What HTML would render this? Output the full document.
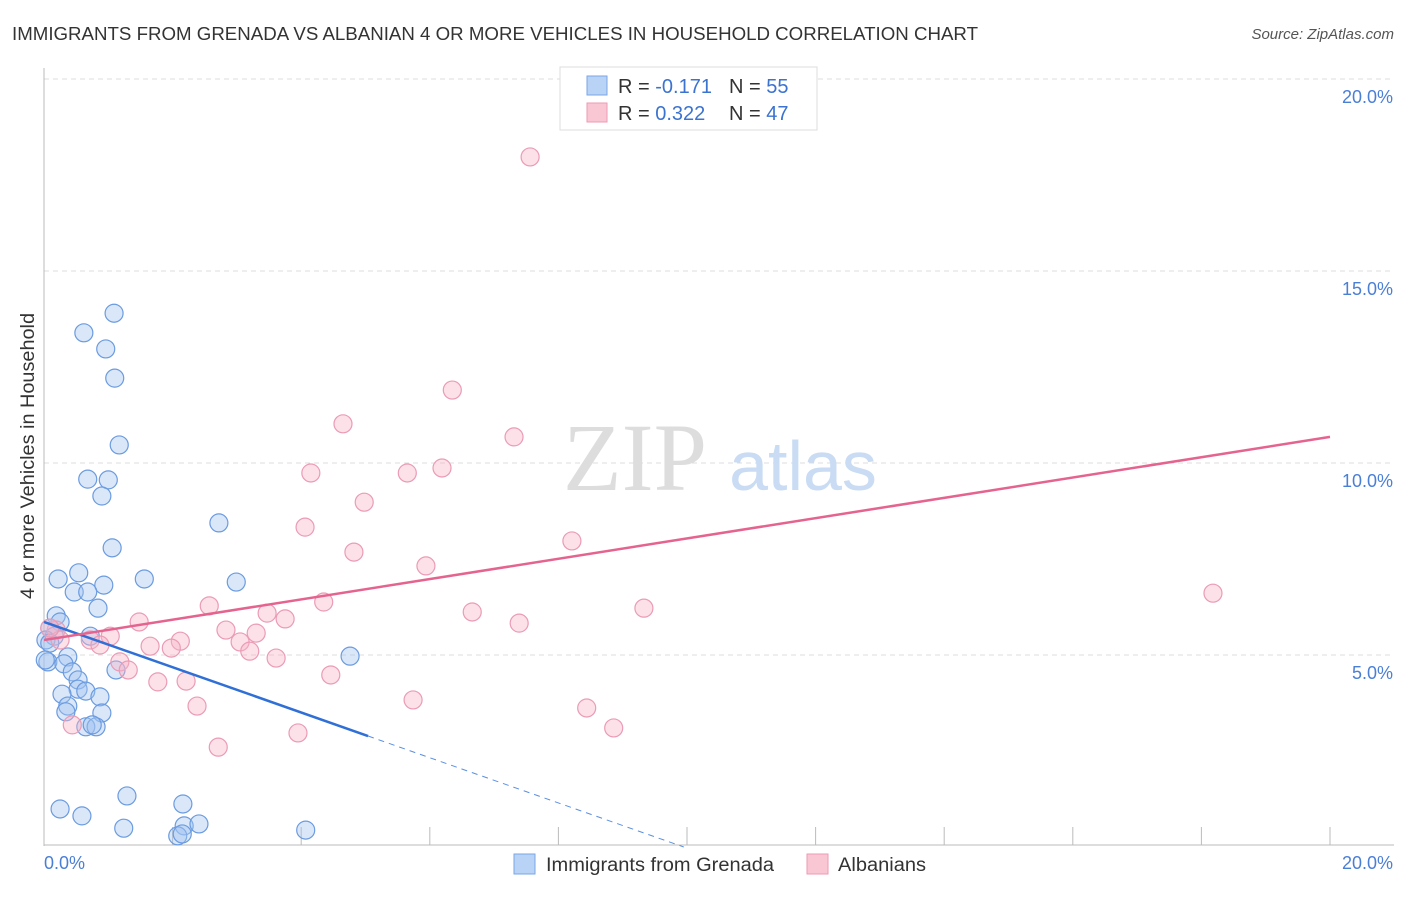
<!DOCTYPE html>
<html><head><meta charset="utf-8"><style>
body{margin:0;background:#fff;font-family:"Liberation Sans",sans-serif}
</style></head><body>
<svg width="1406" height="892" xmlns="http://www.w3.org/2000/svg" style="font-family:'Liberation Sans',sans-serif">
<text x="12" y="40" font-size="18" fill="#333" textLength="966" lengthAdjust="spacingAndGlyphs">IMMIGRANTS FROM GRENADA VS ALBANIAN 4 OR MORE VEHICLES IN HOUSEHOLD CORRELATION CHART</text>
<text x="1394" y="39" font-size="15" fill="#555" font-style="italic" text-anchor="end">Source: ZipAtlas.com</text>
<g id="grid"></g>
<text x="635" y="490" font-size="96" fill="#ddd" font-family="Liberation Serif" text-anchor="middle">ZIP</text>
<text x="803" y="490" font-size="70" fill="#c9dcf3" text-anchor="middle">atlas</text>
<line x1="44" y1="68" x2="44" y2="846" stroke="#bbb"/>
<line x1="44" y1="845" x2="1394" y2="845" stroke="#bbb"/>
<g id="ticks"></g>
<g id="pts"></g>
<g id="trend"></g>
<g id="ylab"></g>
<text x="44" y="869" font-size="18" fill="#4a7fd6">0.0%</text>
<text x="1393" y="869" font-size="18" fill="#4a7fd6" text-anchor="end">20.0%</text>
<text transform="translate(34,456) rotate(-90)" font-size="19" fill="#333" text-anchor="middle" textLength="286" lengthAdjust="spacingAndGlyphs">4 or more Vehicles in Household</text>
<g>
<rect x="560" y="67" width="257" height="63" fill="#fff" stroke="#ddd"/>
<rect x="587" y="76" width="20" height="19" fill="#b8d3f5" stroke="#7aa6e6"/>
<rect x="587" y="103" width="20" height="19" fill="#f9c6d4" stroke="#ee9ab4"/>
<text x="618" y="93" font-size="20" fill="#333">R = <tspan fill="#3b73d0">-0.171</tspan></text>
<text x="729" y="93" font-size="20" fill="#333">N = <tspan fill="#3b73d0">55</tspan></text>
<text x="618" y="120" font-size="20" fill="#333">R = <tspan fill="#3b73d0"> 0.322</tspan></text>
<text x="729" y="120" font-size="20" fill="#333">N = <tspan fill="#3b73d0">47</tspan></text>
</g>
<g>
<rect x="514" y="854" width="21" height="20" fill="#b8d3f5" stroke="#7aa6e6"/>
<text x="546" y="871" font-size="19" fill="#333" textLength="228" lengthAdjust="spacingAndGlyphs">Immigrants from Grenada</text>
<rect x="807" y="854" width="21" height="20" fill="#f9c6d4" stroke="#ee9ab4"/>
<text x="838" y="871" font-size="19" fill="#333" textLength="88" lengthAdjust="spacingAndGlyphs">Albanians</text>
</g>
</svg>
<script>
const yTicks=[5,10,15,20];
const yTickLabels=["5.0%","10.0%","15.0%","20.0%"];
const blueX=[1.09,0.62,0.96,1.10,1.17,0.68,1.0,0.90,2.72,1.06,0.22,0.54,1.56,0.93,2.99,0.47,0.68,0.84,0.19,0.25,0.09,0.16,0.03,0.72,0.09,0.37,0.06,0.31,0.44,0.53,1.12,4.76,0.53,0.28,0.65,0.87,0.37,0.34,0.90,0.65,0.81,0.75,0.25,0.59,1.29,2.16,1.24,2.18,2.41,4.07,2.08,2.15,0.02];
const blueY=[13.9,13.39,12.97,12.21,10.47,9.58,9.56,9.14,8.44,7.79,6.98,7.14,6.98,6.82,6.90,6.64,6.64,6.22,6.02,5.86,5.70,5.49,5.39,5.49,5.31,4.95,4.82,4.77,4.56,4.35,4.61,4.97,4.11,3.98,4.06,3.91,3.67,3.52,3.49,3.13,3.13,3.18,0.99,0.81,1.33,1.12,0.49,0.55,0.60,0.44,0.29,0.34,4.87];
const pinkX=[7.56,6.35,4.65,7.31,4.15,5.65,6.19,4.98,4.06,4.82,8.21,5.94,18.18,2.57,4.35,3.47,3.75,6.66,9.33,7.39,1.48,2.83,3.30,1.03,0.72,0.87,2.12,1.65,1.98,3.05,3.20,3.61,0.19,0.25,1.18,1.31,1.77,2.21,4.46,2.38,5.74,8.44,8.86,3.95,2.71,0.44,0.09];
const pinkY=[17.97,11.90,11.02,10.68,9.74,9.74,9.87,8.98,8.33,7.68,7.97,7.32,6.61,6.28,6.38,6.09,5.94,6.12,6.22,5.83,5.86,5.65,5.57,5.49,5.39,5.26,5.36,5.23,5.18,5.34,5.10,4.92,5.65,5.39,4.82,4.61,4.30,4.32,4.48,3.67,3.83,3.62,3.10,2.97,2.60,3.18,5.70];
const blueTrend=[[0,5.86],[5.04,2.89],[9.95,0]];
const pinkTrend=[[0,5.39],[20,10.68]];
const NS="http://www.w3.org/2000/svg";
const X=v=>44+v*64.3, Y=v=>847-v*38.4;
function mk(t,a,p){const e=document.createElementNS(NS,t);for(const k in a)e.setAttribute(k,a[k]);p.appendChild(e);return e;}
const grid=document.getElementById('grid'),ylab=document.getElementById('ylab');
yTicks.forEach((t,i)=>{
 const l=mk('line',{x1:44,x2:1394,y1:Y(t),y2:Y(t),stroke:'#ddd','stroke-dasharray':'5,4'},grid);
 
 
 const tx=mk('text',{x:1393,y:Y(t)+24,'font-size':18,fill:'#4a7fd6','text-anchor':'end'},ylab);
 tx.textContent=yTickLabels[i];
 
 
});
const ticks=document.getElementById('ticks');
for(let i=1;i<=10;i++){const l=mk('line',{x1:X(i*2),x2:X(i*2),y1:827,y2:845,stroke:'#bbb'},ticks);
 
 }
const pts=document.getElementById('pts');
blueX.forEach((v,i)=>{const c=mk('circle',{cx:X(v),cy:Y(blueY[i]),r:9,fill:'rgba(160,196,240,0.4)',stroke:'#6b9be0','stroke-width':1.2},pts);
 
 });
pinkX.forEach((v,i)=>{const c=mk('circle',{cx:X(v),cy:Y(pinkY[i]),r:9,fill:'rgba(248,180,200,0.4)',stroke:'#eb9bb5','stroke-width':1.2},pts);
 
 });
const tr=document.getElementById('trend');
const b1=mk('line',{x1:X(blueTrend[0][0]),y1:Y(blueTrend[0][1]),x2:X(blueTrend[1][0]),y2:Y(blueTrend[1][1]),stroke:'#2f6fd6','stroke-width':2.5},tr);


const b2=mk('line',{x1:X(blueTrend[1][0]),y1:Y(blueTrend[1][1]),x2:X(blueTrend[2][0]),y2:Y(blueTrend[2][1]),stroke:'#5b8fe0','stroke-width':1,'stroke-dasharray':'6,5'},tr);


const p1=mk('line',{x1:X(pinkTrend[0][0]),y1:Y(pinkTrend[0][1]),x2:X(pinkTrend[1][0]),y2:Y(pinkTrend[1][1]),stroke:'#e5648f','stroke-width':2.5},tr);


</script>
</body></html>
